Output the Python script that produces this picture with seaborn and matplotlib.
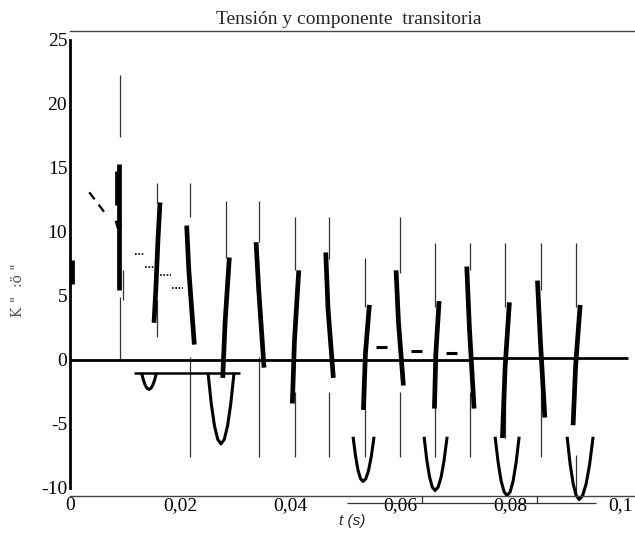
import matplotlib
matplotlib.use("Agg")
import matplotlib.pyplot as plt
import seaborn as sns
import pandas as pd

# ---------------- data ----------------
TITLE = "Tensión y componente  transitoria"
XLABEL = "t (s)"
YLABEL = 'K "  :ö "'
XTICKS = [0, 0.02, 0.04, 0.06, 0.08, 0.1]
XTICKLABELS = ["0", "0,02", "0,04", "0,06", "0,08", "0,1"]
YTICKS = [-10, -5, 0, 5, 10, 15, 20, 25]
YTICKLABELS = ["-10", "-5", "0", "5", "10", "15", "20", "25"]

# thick voltage strokes (polylines: x, y)
STROKES = [
    [(0.0003, 7.8), (0.0003, 5.9)],
    [(0.0085, 14.8), (0.0085, 12.1)],
    [(0.0089, 15.3), (0.0089, 10.8), (0.0089, 5.5)],
    [(0.01527, 2.9), (0.0156, 5.5), (0.0160, 9.5), (0.01636, 12.3)],
    [(0.02121, 10.5), (0.0216, 7.0), (0.0226, 1.2)],
    [(0.02776, -1.4), (0.0282, 3.0), (0.02896, 8.0)],
    [(0.03382, 9.2), (0.0343, 5.5), (0.03527, -0.6)],
    [(0.04042, -3.4), (0.0408, 1.5), (0.04158, 7.0)],
    [(0.04649, 8.4), (0.0469, 4.0), (0.04787, -1.4)],
    [(0.05333, -3.9), (0.0537, 0.5), (0.05442, 4.3)],
    [(0.05927, 7.0), (0.0597, 3.0), (0.0606, -2.0)],
    [(0.06624, -3.8), (0.0665, 0.5), (0.06709, 4.6)],
    [(0.07212, 7.3), (0.0726, 2.5), (0.07345, -3.8)],
    [(0.0786, -6.1), (0.0791, -0.5), (0.07987, 4.5)],
    [(0.08497, 6.2), (0.0855, 1.5), (0.08631, -4.5)],
    [(0.09145, -5.1), (0.0919, -0.5), (0.09273, 4.3)],
]
BLOBS = [[(0.0086, 10.9), (0.0090, 10.3)]]

# thin vertical spikes: x, top, bottom
THIN_X = [0.00909, 0.00909, 0.0097, 0.01588, 0.01588, 0.02182, 0.02182,
          0.0283, 0.03442, 0.03442, 0.04097, 0.04097, 0.04715, 0.04715,
          0.05364, 0.05364, 0.0600, 0.0600, 0.06642, 0.06642, 0.07273,
          0.07273, 0.07915, 0.07915, 0.08564, 0.08564, 0.0920, 0.0920]
THIN_TOP = [22.3, 4.9, 7.0, 13.8, 4.7, 13.8, 0.2,
            12.4, 12.4, 0.2, 11.2, -2.5, 11.2, -2.5,
            8.0, -1.8, 11.2, -2.5, 9.1, -2.6, 9.1,
            -2.5, 9.1, -2.1, 9.1, -2.5, 9.1, -7.4]
THIN_BOT = [17.4, 0.0, 4.7, 12.3, 1.8, 11.2, -7.6,
            8.0, 9.2, -7.6, 7.0, -7.6, 7.9, -7.6,
            4.1, -7.6, 6.8, -7.6, 4.1, -7.6, 7.0,
            -7.6, 4.1, -6.1, 5.5, -7.6, 4.1, -10.7]

# U-shaped transient component curves
U1_X = [0.01300, 0.01334, 0.01368, 0.01402, 0.01436, 0.01470, 0.01504, 0.01538, 0.01572]
U1_Y = [-1.0, -1.57, -1.98, -2.22, -2.3, -2.22, -1.98, -1.57, -1.0]
U2_X = [0.02509, 0.02568, 0.02627, 0.02686, 0.02745, 0.02804, 0.02863, 0.02922, 0.02982]
U2_Y = [-1.0, -3.43, -5.17, -6.21, -6.56, -6.21, -5.17, -3.43, -1.0]
U3_X = [0.05145, 0.05191, 0.05236, 0.05282, 0.05327, 0.05377, 0.05427, 0.05477, 0.05527]
U3_Y = [-6.0, -7.53, -8.63, -9.28, -9.5, -9.28, -8.63, -7.53, -6.0]
U4_X = [0.06436, 0.06486, 0.06536, 0.06586, 0.06636, 0.06691, 0.06746, 0.06800, 0.06855]
U4_Y = [-6.0, -7.84, -9.15, -9.94, -10.2, -9.94, -9.15, -7.84, -6.0]
U5_X = [0.07727, 0.07782, 0.07836, 0.07891, 0.07945, 0.08000, 0.08055, 0.08109, 0.08164]
U5_Y = [-6.0, -8.01, -9.45, -10.31, -10.6, -10.31, -9.45, -8.01, -6.0]
U6_X = [0.09036, 0.09091, 0.09146, 0.09200, 0.09255, 0.09319, 0.09382, 0.09446, 0.09509]
U6_Y = [-6.0, -8.14, -9.68, -10.59, -10.9, -10.59, -9.68, -8.14, -6.0]

# horizontal pieces
ZERO_LINE = [[(0.0, 0.0), (0.0725, 0.0)], [(0.0725, 0.15), (0.1015, 0.15)]]
MINUS_ONE_LINE = [[(0.0116, -1.0), (0.0309, -1.0)]]
DOTTED = [[(0.0118, 8.3), (0.0136, 8.3)], [(0.0136, 7.3), (0.0155, 7.3)],
          [(0.0164, 6.6), (0.0184, 6.6)], [(0.0185, 5.6), (0.0205, 5.6)]]
DASHES = [[(0.0557, 1.0), (0.0577, 1.0)], [(0.0620, 0.7), (0.0640, 0.7)],
          [(0.0684, 0.55), (0.0704, 0.55)]]
DIAG = [[(0.0035, 13.1), (0.0065, 11.4)]]
LOW_LINE = [[(0.0504, -11.2), (0.0956, -11.2)],
            [(0.0640, -11.2), (0.0640, -10.6)],
            [(0.0849, -11.2), (0.0849, -10.6)]]

# ---------------- drawing ----------------
sns.set_theme(style="white")
plt.rcParams["font.family"] = ["Liberation Serif", "DejaVu Serif"]

fig = plt.figure(figsize=(6.35, 5.53), dpi=100)
ax = fig.add_axes([70 / 635, 1 - 496 / 553, 565 / 635, 465 / 553])


def to_df(segs):
    rows = [(i, x, y) for i, seg in enumerate(segs) for (x, y) in seg]
    return pd.DataFrame(rows, columns=["seg", "x", "y"])


def draw(segs, lw, color="black", **kw):
    sns.lineplot(data=to_df(segs), x="x", y="y", units="seg", estimator=None,
                 sort=False, color=color, linewidth=lw, ax=ax, legend=False,
                 solid_capstyle="butt", **kw)


thin = [[(x, t), (x, b)] for x, t, b in zip(THIN_X, THIN_TOP, THIN_BOT)]
draw(thin, 0.9, color="#333333")
draw(ZERO_LINE, 2.0)
draw(STROKES, 3.4)
draw(BLOBS, 4.0)
draw(DIAG, 1.6, linestyle=(0, (4, 3)))
draw(DOTTED, 1.2, linestyle=(0, (1, 1)))
draw(DASHES, 2.2)
us = [list(zip(UX, UY)) for UX, UY in [(U1_X, U1_Y), (U2_X, U2_Y), (U3_X, U3_Y),
                                       (U4_X, U4_Y), (U5_X, U5_Y), (U6_X, U6_Y)]]
draw(us, 2.2, clip_on=False)
draw(MINUS_ONE_LINE, 1.8)
draw(LOW_LINE, 0.9, color="#333333", clip_on=False)

ax.set_xlim(0, 0.1027)
ax.set_ylim(-10.63, 25.7)
ax.set_xticks(XTICKS)
ax.set_xticklabels(XTICKLABELS)
ax.set_yticks(YTICKS)
ax.set_yticklabels(YTICKLABELS)
ax.tick_params(axis="both", length=0, labelsize=14, colors="black")
ax.tick_params(axis="x", pad=1)
ax.tick_params(axis="y", pad=2)
ax.set_xlabel("")
ax.set_ylabel("")

ax.spines["right"].set_visible(False)
ax.spines["left"].set_bounds(-10, 25)
ax.spines["left"].set_linewidth(2.0)
ax.spines["left"].set_color("black")
ax.spines["top"].set_linewidth(1.0)
ax.spines["top"].set_color("#444444")
ax.spines["bottom"].set_linewidth(1.0)
ax.spines["bottom"].set_color("#444444")

fig.text(349 / 635, 1 - 19 / 553, TITLE, ha="center", va="center", fontsize=14)
fig.text(352 / 635, 1 - 521 / 553, XLABEL, ha="center", va="center",
         fontsize=11, style="italic", family=["Liberation Sans", "DejaVu Sans"])
fig.text(18 / 635, 1 - 290 / 553, YLABEL, ha="center", va="center", rotation=90,
         fontsize=10, color="#555555", family=["DejaVu Serif"])

fig.savefig("out.png", dpi=100)
